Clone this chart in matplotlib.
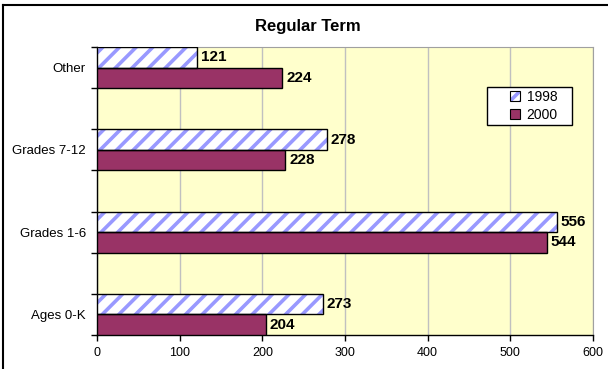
import matplotlib.pyplot as plt
from matplotlib.patches import Patch, Rectangle
from matplotlib.lines import Line2D

categories = ['Ages 0-K', 'Grades 1-6', 'Grades 7-12', 'Other']
y_1998 = [273, 556, 278, 121]
y_2000 = [204, 544, 228, 224]

plt.rcParams['font.family'] = ['Liberation Sans', 'DejaVu Sans']
plt.rcParams['hatch.linewidth'] = 2.6

fig = plt.figure(figsize=(6.08, 3.69), dpi=100)
ax = fig.add_axes([97/608, 1-335/369, (593-97)/608, (335-47)/369])
ax.set_facecolor('#FFFFCC')

pos = list(range(len(categories)))
h = 0.25

# hatched 1998 bars: hatch drawn in blue, then a black outline on top
ax.barh(pos, y_1998, height=h, align='edge', color='white',
        edgecolor='#9999FF', hatch='//', linewidth=0, zorder=3)
ax.barh(pos, y_1998, height=h, align='edge', fill=False,
        edgecolor='black', linewidth=1, zorder=4)
ax.barh([p - h for p in pos], y_2000, height=h, align='edge',
        color='#993366', edgecolor='black', linewidth=1, zorder=3)

for p, a, b in zip(pos, y_1998, y_2000):
    ax.text(a + 5, p + h/2, str(a), va='center', ha='left',
            fontsize=11, fontweight='bold', zorder=5)
    ax.text(b + 5, p - h/2, str(b), va='center', ha='left',
            fontsize=11, fontweight='bold', zorder=5)

ax.set_xlim(0, 600)
ax.set_ylim(-h, len(categories) - 1 + h)
ax.set_xticks(range(0, 601, 100))
ax.grid(axis='x', color='#C0C0C0', linewidth=1, zorder=1)

edges = []
for p in pos:
    edges += [p - h, p + h]
ax.set_yticks(edges)
ax.set_yticklabels([])
ax.set_yticks(pos, minor=True)
ax.set_yticklabels(categories, minor=True)
ax.tick_params(axis='y', which='minor', length=0, pad=8, labelsize=9.5)
ax.tick_params(axis='y', which='major', length=4, direction='out', width=1)
ax.tick_params(axis='x', length=4, direction='out', width=1, labelsize=9, pad=5)

for s in ['top', 'right']:
    ax.spines[s].set_color('#A0A0A0')
for s in ['left', 'bottom']:
    ax.spines[s].set_color('black')
    ax.spines[s].set_linewidth(1)

# legend box
ax.add_patch(Rectangle(((487-97)/496, (335-125)/288), 85/496, 38/288,
                       transform=ax.transAxes, facecolor='white',
                       edgecolor='black', linewidth=1, zorder=6))
h98 = (Patch(facecolor='white', edgecolor='#9999FF', hatch='///', linewidth=0),
       Patch(fill=False, edgecolor='black', linewidth=0.8))
h00 = Patch(facecolor='#993366', edgecolor='black', linewidth=0.8)
leg = ax.legend([h98, h00], ['1998', '2000'], loc='upper left',
                bbox_to_anchor=((510-97)/496, (335-90)/288),
                fontsize=10, frameon=False, handlelength=0.7,
                handleheight=0.7, handletextpad=0.5, borderpad=0,
                labelspacing=0.3, borderaxespad=0)
leg.set_zorder(7)

fig.text(308/608, 1-26/369, 'Regular Term', ha='center', va='center',
         fontsize=12, fontweight='bold')

fig.add_artist(Line2D([3/608, 3/608], [0, 1-4.5/369], color='black', linewidth=1.5))
fig.add_artist(Line2D([3/608, 1], [1-4.5/369, 1-4.5/369], color='black', linewidth=1.5))

fig.savefig('out.png', dpi=100)
